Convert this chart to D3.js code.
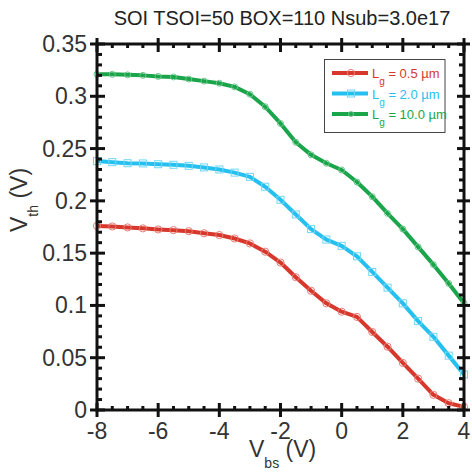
<!DOCTYPE html>
<html>
<head>
<meta charset="utf-8">
<script src="https://cdn.jsdelivr.net/npm/d3@7"></script>
<style>
  body { margin: 0; background: #fff; }
  svg { display: block; font-family: "Liberation Sans", Arial, sans-serif; }
</style>
</head>
<body>
<div id="chart"></div>
<script>
// Vbs sweep points (V)
const vbs = [-8, -7.5, -7, -6.5, -6, -5.5, -5, -4.5, -4, -3.5, -3, -2.5, -2,
             -1.5, -1, -0.5, 0, 0.5, 1, 1.5, 2, 2.5, 3, 3.5, 4];

// threshold voltage per gate length (V)
const vthLg05 = [0.176, 0.1755, 0.1746, 0.1737, 0.1727, 0.172, 0.171, 0.169, 0.1673,
                 0.164, 0.1593, 0.1514, 0.141, 0.127, 0.114, 0.102, 0.094, 0.089,
                 0.0746, 0.0605, 0.045, 0.030, 0.0145, 0.0065, 0.003];
const vthLg20 = [0.238, 0.237, 0.236, 0.2358, 0.235, 0.2345, 0.2335, 0.232, 0.230,
                 0.227, 0.223, 0.2135, 0.201, 0.187, 0.173, 0.163, 0.157, 0.147,
                 0.132, 0.117, 0.102, 0.085, 0.070, 0.052, 0.034];
const vthLg100 = [0.321, 0.321, 0.3205, 0.320, 0.319, 0.3185, 0.3165, 0.3145, 0.3125,
                  0.309, 0.302, 0.290, 0.274, 0.256, 0.244, 0.236, 0.2295, 0.218,
                  0.204, 0.188, 0.173, 0.156, 0.139, 0.121, 0.102];

const seriesNames = ["0.5", "2.0", "10.0"];
const seriesColors = ["#d8372c", "#25c0ef", "#1aa54b"];

const xTicks = [-8, -6, -4, -2, 0, 2, 4];
const yTicks = [0, 0.05, 0.1, 0.15, 0.2, 0.25, 0.3, 0.35];
const yTickLabels = ["0", "0.05", "0.1", "0.15", "0.2", "0.25", "0.3", "0.35"];

const width = 472, height = 475;
const plot = { left: 97, right: 464, top: 44, bottom: 410 };

const svg = d3.select("#chart").append("svg")
    .attr("width", width)
    .attr("height", height);

const x = d3.scaleLinear().domain([-8, 4]).range([plot.left, plot.right]);
const y = d3.scaleLinear().domain([0, 0.35]).range([plot.bottom, plot.top]);

const xMinor = d3.range(-8, 4.001, 0.5).filter(v => Math.abs(v % 2) > 1e-6);
const yMinor = d3.range(0, 0.3501, 0.01).filter(v => Math.abs(Math.round(v * 100) % 5) !== 0);

// series lines
const allSeries = [vthLg05, vthLg20, vthLg100];
const line = d3.line().x((d, i) => x(vbs[i])).y(d => y(d));
const markerColor = k => d3.interpolateRgb(seriesColors[k], "#fff")(0.35);

allSeries.forEach((vals, k) => {
    svg.append("path")
        .datum(vals)
        .attr("fill", "none")
        .attr("stroke", seriesColors[k])
        .attr("stroke-width", 4)
        .attr("stroke-linejoin", "round")
        .attr("d", line);

    const marks = svg.append("g");
    if (k === 1) {
        // squares for the 2.0 um curve
        marks.selectAll("rect")
            .data(vals)
            .join("rect")
            .attr("x", (d, i) => x(vbs[i]) - 3.5)
            .attr("y", d => y(d) - 3.5)
            .attr("width", 7).attr("height", 7)
            .attr("fill", "none")
            .attr("stroke", markerColor(k))
            .attr("stroke-width", 1);
    } else {
        marks.selectAll("circle")
            .data(vals)
            .join("circle")
            .attr("cx", (d, i) => x(vbs[i]))
            .attr("cy", d => y(d))
            .attr("r", k === 2 ? 3 : 3.6)
            .attr("fill", "none")
            .attr("stroke", markerColor(k))
            .attr("stroke-width", 1);
    }
});

// frame
const frame = svg.append("g").attr("stroke", "#111").attr("stroke-width", 3);
frame.append("rect")
    .attr("x", plot.left).attr("y", plot.top)
    .attr("width", plot.right - plot.left).attr("height", plot.bottom - plot.top)
    .attr("fill", "none");

// major ticks cross the frame, minor ticks point inside
xTicks.forEach(v => {
    frame.append("line").attr("x1", x(v)).attr("x2", x(v))
        .attr("y1", plot.bottom - 7).attr("y2", plot.bottom + 7);
    frame.append("line").attr("x1", x(v)).attr("x2", x(v))
        .attr("y1", plot.top - 6).attr("y2", plot.top + 8);
});
xMinor.forEach(v => {
    frame.append("line").attr("x1", x(v)).attr("x2", x(v))
        .attr("y1", plot.bottom).attr("y2", plot.bottom - 4);
    frame.append("line").attr("x1", x(v)).attr("x2", x(v))
        .attr("y1", plot.top).attr("y2", plot.top + 4);
});
yTicks.forEach(v => {
    frame.append("line").attr("y1", y(v)).attr("y2", y(v))
        .attr("x1", plot.left - 7).attr("x2", plot.left + 8);
    frame.append("line").attr("y1", y(v)).attr("y2", y(v))
        .attr("x1", plot.right - 7).attr("x2", plot.right + 6);
});
yMinor.forEach(v => {
    frame.append("line").attr("y1", y(v)).attr("y2", y(v))
        .attr("x1", plot.left).attr("x2", plot.left + 5);
    frame.append("line").attr("y1", y(v)).attr("y2", y(v))
        .attr("x1", plot.right).attr("x2", plot.right - 5);
});

// tick labels
svg.append("g").selectAll("text")
    .data(xTicks)
    .join("text")
    .attr("x", d => x(d))
    .attr("y", 439)
    .attr("text-anchor", "middle")
    .attr("font-size", 23)
    .attr("fill", "#333")
    .text(d => d);

svg.append("g").selectAll("text")
    .data(yTicks)
    .join("text")
    .attr("x", 87)
    .attr("y", d => y(d) + 8)
    .attr("text-anchor", "end")
    .attr("font-size", 23)
    .attr("fill", "#333")
    .text((d, i) => yTickLabels[i]);

// title
svg.append("text")
    .attr("x", 282).attr("y", 25)
    .attr("text-anchor", "middle")
    .attr("font-size", 20)
    .attr("fill", "#222")
    .text("SOI TSOI=50 BOX=110 Nsub=3.0e17");

// x axis label
const xl = svg.append("text")
    .attr("x", 249).attr("y", 457)
    .attr("font-size", 23)
    .attr("fill", "#333");
xl.append("tspan").text("V");
xl.append("tspan").attr("font-size", 14).attr("dy", 11).text("bs");
xl.append("tspan").attr("dy", -11).text(" (V)");

// y axis label
const yl = svg.append("text")
    .attr("transform", "translate(27,232) rotate(-90)")
    .attr("font-size", 23)
    .attr("fill", "#333");
yl.append("tspan").text("V");
yl.append("tspan").attr("font-size", 14).attr("dy", 11).text("th");
yl.append("tspan").attr("dy", -11).text(" (V)");

// legend
const legend = svg.append("g");
legend.append("rect")
    .attr("x", 324.5).attr("y", 59.5)
    .attr("width", 120.5).attr("height", 73)
    .attr("fill", "#fff")
    .attr("stroke", "#444")
    .attr("stroke-width", 1);

seriesNames.forEach((name, k) => {
    const ly = 73 + k * 20.5;
    legend.append("line")
        .attr("x1", 332).attr("x2", 368)
        .attr("y1", ly).attr("y2", ly)
        .attr("stroke", seriesColors[k])
        .attr("stroke-width", 4);
    if (k === 1) {
        legend.append("rect")
            .attr("x", 347.5).attr("y", ly - 3.5)
            .attr("width", 7).attr("height", 7)
            .attr("fill", "none")
            .attr("stroke", markerColor(k))
            .attr("stroke-width", 1);
    } else {
        legend.append("circle")
            .attr("cx", 351).attr("cy", ly)
            .attr("r", k === 2 ? 2.5 : 3.6)
            .attr("fill", "none")
            .attr("stroke", markerColor(k))
            .attr("stroke-width", 1);
    }
    const t = legend.append("text")
        .attr("x", 372).attr("y", ly + 5)
        .attr("font-size", 13)
        .attr("fill", seriesColors[k]);
    t.append("tspan").text("L");
    t.append("tspan").attr("font-size", 10).attr("dy", 7).text("g");
    t.append("tspan").attr("dy", -7).text(" = " + name + " \u00b5m");
});
</script>
</body>
</html>
